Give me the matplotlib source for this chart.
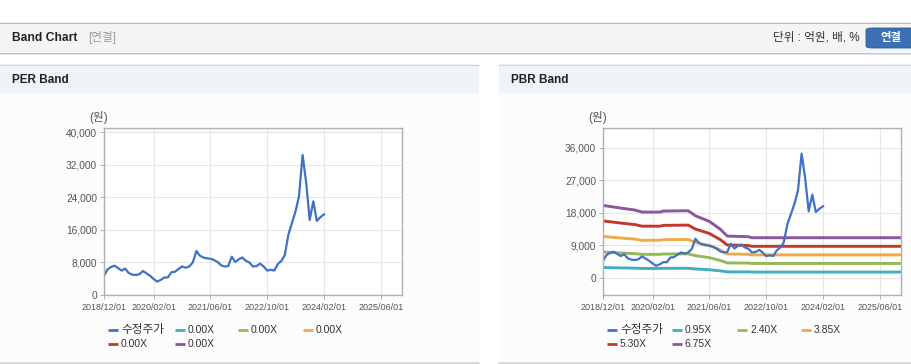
import matplotlib
matplotlib.use('Agg')
import matplotlib.pyplot as plt
import matplotlib.dates as mdates
from matplotlib.patches import Rectangle, FancyBboxPatch
from matplotlib.lines import Line2D
from matplotlib.ticker import FuncFormatter
import pandas as pd

plt.rcParams['font.family'] = ['Liberation Sans', 'Noto Sans CJK KR', 'DejaVu Sans']

# Data
# monthly adjusted close (수정주가), 2018/12 .. 2024/02
price_dates = pd.date_range('2018-12-01', '2024-02-01', freq='MS')
price = [4700, 6300, 6900, 7200, 6600, 6000, 6500, 5400, 5000, 4900,
         5100, 5900, 5300, 4700, 3900, 3300, 3700, 4300, 4300, 5600,
         5700, 6400, 7000, 6700, 7000, 8000, 10800, 9700, 9200, 9000,
         8900, 8600, 8100, 7300, 7000, 7100, 9400, 8100, 8800, 9200,
         8400, 8000, 7000, 7100, 7700, 7000, 6000, 6200, 6000, 7600,
         8400, 9800, 14800, 17600, 20500, 24200, 34400, 27500, 18400, 23000,
         18200, 19100, 19800]

# PER band: multiples are all 0.00X, nothing drawn
per_labels = ['0.00X', '0.00X', '0.00X', '0.00X', '0.00X']

# PBR band lines, values at the dates where the band changes
band_dates = pd.to_datetime(['2018-12-01', '2019-05-01', '2019-09-01', '2019-11-01',
                             '2020-04-01', '2020-05-01', '2020-12-01', '2021-02-01',
                             '2021-06-01', '2021-09-01', '2021-11-01', '2022-05-01',
                             '2022-06-01', '2025-12-01'])
pbr_labels = ['0.95X', '2.40X', '3.85X', '5.30X', '6.75X']
pbr_095 = [2820, 2720, 2640, 2560, 2560, 2600, 2610, 2420, 2200, 1900, 1620, 1600, 1560, 1560]
pbr_240 = [7130, 6860, 6670, 6470, 6470, 6570, 6600, 6110, 5550, 4790, 4100, 4040, 3940, 3940]
pbr_385 = [11430, 11010, 10690, 10380, 10380, 10530, 10590, 9790, 8900, 7690, 6580, 6480, 6320, 6320]
pbr_530 = [15740, 15150, 14720, 14280, 14280, 14500, 14580, 13480, 12250, 10580, 9060, 8920, 8700, 8700]
pbr_675 = [20040, 19300, 18750, 18190, 18190, 18470, 18560, 17170, 15600, 13480, 11540, 11360, 11080, 11080]
pbr_bands = [pbr_095, pbr_240, pbr_385, pbr_530, pbr_675]

date_ticks = pd.to_datetime(['2018-12-01', '2020-02-01', '2021-06-01',
                             '2022-10-01', '2024-02-01', '2025-06-01'])
x_end = pd.Timestamp('2025-12-01')

price_color = '#3f72c4'
band_colors = ['#3fb0c4', '#94b957', '#f0aa45', '#c0392b', '#8a569e']

W, H = 912, 364


def fx(x):
    return x / W


def fy(y):
    return 1 - y / H


fig = plt.figure(figsize=(W / 100, H / 100), dpi=100)
fig.patch.set_facecolor('white')


def rect(x0, y0, x1, y1, color, z=-5):
    fig.add_artist(Rectangle((fx(x0), fy(y1)), (x1 - x0) / W, (y1 - y0) / H,
                             transform=fig.transFigure, facecolor=color,
                             edgecolor='none', zorder=z))


def hline(x0, x1, y, color, lw=1):
    fig.add_artist(Line2D([fx(x0), fx(x1)], [fy(y), fy(y)], transform=fig.transFigure,
                          color=color, lw=lw * 0.72, zorder=-4))


# top "Band Chart" bar
rect(0, 22, W, 52, '#f4f4f4')
hline(0, W, 22.5, '#bcbcbc')
hline(0, W, 52.5, '#c4c4c4', 1.2)
hline(0, W, 53.8, '#e4e4e4', 1)
fig.text(fx(12), fy(38), 'Band Chart', fontsize=8.7, fontweight='bold', color='#222222', va='center')
fig.text(fx(88), fy(38), '[연결]', fontsize=8.4, color='#9a9a9a', va='center')
fig.text(fx(860), fy(38), '단위 : 억원, 배, %', fontsize=8.4, color='#333333', va='center', ha='right')
fig.add_artist(FancyBboxPatch((fx(866), fy(48)), (50) / W, 20 / H,
                              boxstyle='round,pad=0,rounding_size=0.006',
                              transform=fig.transFigure, facecolor='#3c6fb3',
                              edgecolor='#2f5d9c', lw=0.6, zorder=-3))
fig.text(fx(891), fy(38), '연결', fontsize=8.2, fontweight='bold', color='white',
         va='center', ha='center')

# panels
for x0, x1, title in [(0, 479, 'PER Band'), (499, W, 'PBR Band')]:
    rect(x0, 64, x1, 364, '#fcfcfc')
    rect(x0, 64, x1, 93, '#eff2f7')
    hline(x0, x1, 64.5, '#d2d4d8')
    hline(x0, x1, 362.5, '#d0d0d0', 1.5)
    fig.text(fx(x0 + 12), fy(80), title, fontsize=8.5, fontweight='bold', color='#222222', va='center')


def style_axis(ax, ylim, yticks):
    ax.set_facecolor('white')
    ax.set_xlim(mdates.date2num(price_dates[0]), mdates.date2num(x_end))
    ax.set_ylim(*ylim)
    ax.set_yticks(yticks)
    ax.set_xticks(mdates.date2num(date_ticks))
    ax.set_xticklabels([d.strftime('%Y/%m/%d') for d in date_ticks], fontsize=6.5, color='#555555')
    ax.yaxis.set_major_formatter(FuncFormatter(lambda v, p: f'{v:,.0f}'))
    ax.tick_params(axis='y', labelsize=7.3, labelcolor='#555555', length=3, width=0.7,
                   color='#b0b0b0', pad=2)
    ax.tick_params(axis='x', length=3, width=0.7, color='#b0b0b0', pad=3)
    ax.grid(True, color='#e6e6e6', lw=0.8)
    ax.set_axisbelow(True)
    for s in ax.spines.values():
        s.set_color('#b0b0b0')
        s.set_linewidth(1.0)


def legend(x_cols, labels, colors):
    for i, (lab, c) in enumerate(zip(labels, colors)):
        x = x_cols[i % 4]
        y = 330 + 14 * (i // 4)
        fig.add_artist(Line2D([fx(x), fx(x + 10)], [fy(y), fy(y)], transform=fig.transFigure,
                              color=c, lw=2.0, solid_capstyle='butt'))
        size = 8.4 if lab == '수정주가' else 7.5
        fig.text(fx(x + 13), fy(y), lab, fontsize=size, color='#333333', va='center')


# PER band
ax1 = fig.add_axes([fx(104), fy(295), 298 / W, 167 / H])
style_axis(ax1, (0, 41000), range(0, 40001, 8000))
ax1.plot(mdates.date2num(price_dates), price, color=price_color, lw=1.6)
fig.text(fx(99), fy(118), '(원)', fontsize=8.4, color='#555555', ha='center', va='center')
legend([108, 175, 238, 303], ['수정주가'] + per_labels, [price_color] + band_colors)

# PBR band
ax2 = fig.add_axes([fx(603), fy(295), 298 / W, 167 / H])
style_axis(ax2, (-4800, 41500), range(0, 36001, 9000))
for vals, c in zip(pbr_bands, band_colors):
    ax2.plot(mdates.date2num(band_dates), vals, color=c, lw=2.1)
ax2.plot(mdates.date2num(price_dates), price, color=price_color, lw=1.6)
fig.text(fx(598), fy(118), '(원)', fontsize=8.4, color='#555555', ha='center', va='center')
legend([607, 672, 737, 801], ['수정주가'] + pbr_labels, [price_color] + band_colors)

fig.savefig('out.png', dpi=100)
